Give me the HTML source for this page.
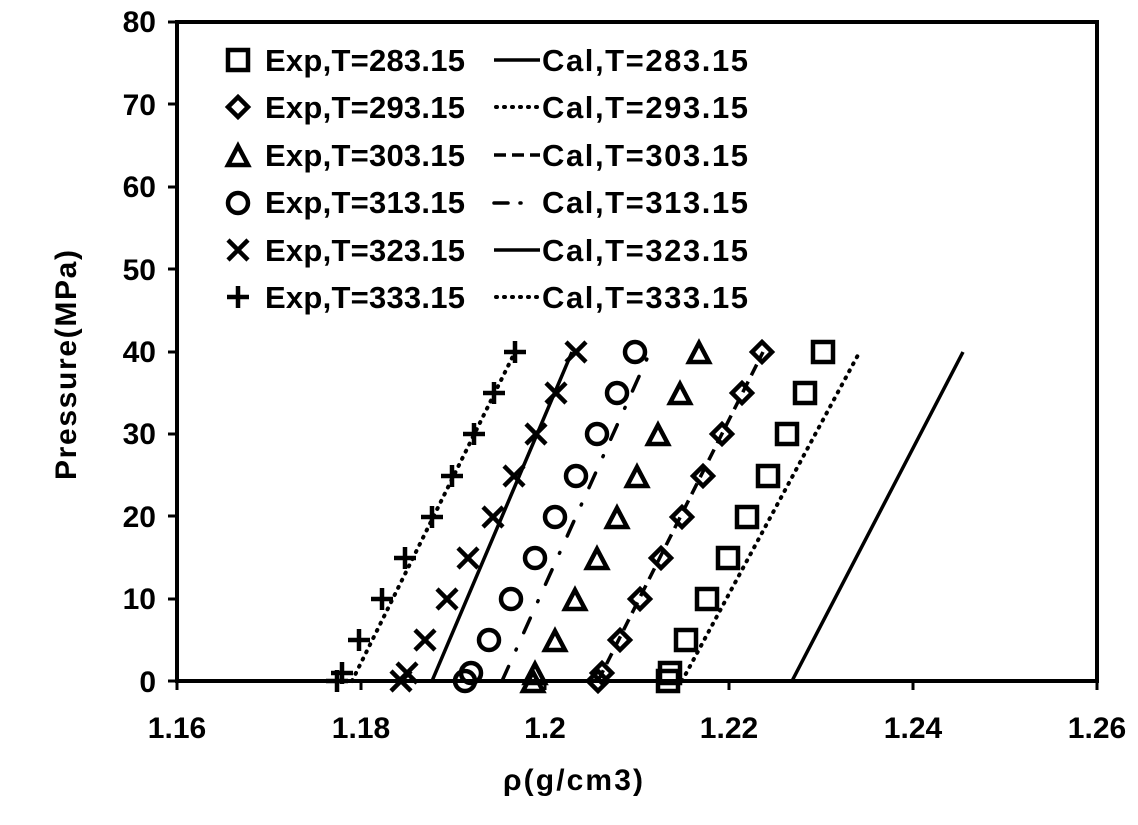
<!DOCTYPE html>
<html><head><meta charset="utf-8"><style>
html,body{margin:0;padding:0;background:#fff;width:1138px;height:825px;overflow:hidden}
text{font-family:"Liberation Sans",sans-serif;font-weight:bold;fill:#000}
.t{font-size:30px}
.l{font-size:31px}
</style></head><body>
<svg width="1138" height="825" viewBox="0 0 1138 825" xmlns="http://www.w3.org/2000/svg">
<defs>
<g id="sq"><rect x="-10" y="-10" width="20" height="20" fill="none" stroke="#000" stroke-width="4.5"/></g>
<g id="di"><path d="M0,-10 L10,0 L0,10 L-10,0Z" fill="none" stroke="#000" stroke-width="4.5"/></g>
<g id="tr"><path d="M0,-11 L10,8 L-10,8Z" fill="none" stroke="#000" stroke-width="4.5" stroke-linejoin="miter"/></g>
<g id="ci"><circle r="10" fill="none" stroke="#000" stroke-width="4.5"/></g>
<g id="xx"><path d="M-10,-10L10,10M10,-10L-10,10" stroke="#000" stroke-width="4.5"/></g>
<g id="pl"><path d="M-11,0H11M0,-11V11" stroke="#000" stroke-width="4.5"/></g>
</defs>
<rect x="177" y="22" width="920" height="659" fill="none" stroke="#000" stroke-width="4"/>
<g stroke="#000" stroke-width="3">
<line x1="168" y1="22" x2="177" y2="22"/><line x1="168" y1="104" x2="177" y2="104"/><line x1="168" y1="187" x2="177" y2="187"/><line x1="168" y1="269" x2="177" y2="269"/><line x1="168" y1="352" x2="177" y2="352"/><line x1="168" y1="434" x2="177" y2="434"/><line x1="168" y1="516" x2="177" y2="516"/><line x1="168" y1="599" x2="177" y2="599"/><line x1="168" y1="681" x2="177" y2="681"/>
<line x1="177" y1="681" x2="177" y2="690"/><line x1="361" y1="681" x2="361" y2="690"/><line x1="545" y1="681" x2="545" y2="690"/><line x1="729" y1="681" x2="729" y2="690"/><line x1="913" y1="681" x2="913" y2="690"/><line x1="1097" y1="681" x2="1097" y2="690"/>
</g>
<g class="t" text-anchor="end">
<text x="156" y="32">80</text><text x="156" y="115">70</text><text x="156" y="197">60</text><text x="156" y="280">50</text><text x="156" y="362">40</text><text x="156" y="444">30</text><text x="156" y="527">20</text><text x="156" y="609">10</text><text x="156" y="692">0</text>
</g>
<g class="t" text-anchor="middle">
<text x="177" y="738">1.16</text><text x="361" y="738">1.18</text><text x="545" y="738">1.2</text><text x="729" y="738">1.22</text><text x="913" y="738">1.24</text><text x="1097" y="738">1.26</text>
</g>
<text x="503" y="790" class="t" textLength="140">ρ(g/cm3)</text>
<text transform="translate(76,480) rotate(-90)" class="t" textLength="230">Pressure(MPa)</text>
<g fill="none" stroke="#000" stroke-width="3.5">
<line x1="792" y1="681" x2="963" y2="352"/>
<line x1="682" y1="681" x2="858" y2="355" stroke-dasharray="1 7" stroke-linecap="round" stroke-width="4"/>
<line x1="598" y1="681" x2="763" y2="352" stroke-dasharray="12 7"/>
<line x1="502" y1="681" x2="650" y2="352" stroke-dasharray="16 18 1 18" stroke-linecap="round"/>
<line x1="432" y1="681" x2="572" y2="352"/>
<line x1="352" y1="681" x2="515" y2="352" stroke-dasharray="1 7" stroke-linecap="round" stroke-width="4"/>
</g>
<line x1="177" y1="681" x2="1097" y2="681" stroke="#000" stroke-width="4"/>
<g>
<use href="#sq" x="823" y="352"/><use href="#sq" x="805" y="393"/><use href="#sq" x="787" y="434"/><use href="#sq" x="768" y="476"/><use href="#sq" x="747" y="517"/><use href="#sq" x="728" y="558"/><use href="#sq" x="707" y="599"/><use href="#sq" x="686" y="640"/><use href="#sq" x="670" y="673"/><use href="#sq" x="668" y="681"/>
<use href="#di" x="762" y="352"/><use href="#di" x="742" y="393"/><use href="#di" x="722" y="434"/><use href="#di" x="703" y="476"/><use href="#di" x="682" y="517"/><use href="#di" x="661" y="558"/><use href="#di" x="640" y="599"/><use href="#di" x="620" y="640"/><use href="#di" x="602" y="673"/><use href="#di" x="598" y="681"/>
<use href="#tr" x="699" y="354"/><use href="#tr" x="680" y="395"/><use href="#tr" x="658" y="436"/><use href="#tr" x="637" y="478"/><use href="#tr" x="617" y="519"/><use href="#tr" x="597" y="560"/><use href="#tr" x="575" y="601"/><use href="#tr" x="555" y="642"/><use href="#tr" x="535" y="675"/><use href="#tr" x="533" y="683"/>
<use href="#ci" x="635" y="352"/><use href="#ci" x="617" y="393"/><use href="#ci" x="597" y="434"/><use href="#ci" x="576" y="476"/><use href="#ci" x="555" y="517"/><use href="#ci" x="535" y="558"/><use href="#ci" x="511" y="599"/><use href="#ci" x="489" y="640"/><use href="#ci" x="471" y="673"/><use href="#ci" x="465" y="681"/>
<use href="#xx" x="576" y="352"/><use href="#xx" x="556" y="393"/><use href="#xx" x="536" y="434"/><use href="#xx" x="514" y="476"/><use href="#xx" x="493" y="517"/><use href="#xx" x="468" y="558"/><use href="#xx" x="447" y="599"/><use href="#xx" x="425" y="640"/><use href="#xx" x="407" y="673"/><use href="#xx" x="401" y="681"/>
<use href="#pl" x="515" y="352"/><use href="#pl" x="494" y="393"/><use href="#pl" x="474" y="434"/><use href="#pl" x="452" y="476"/><use href="#pl" x="432" y="517"/><use href="#pl" x="405" y="558"/><use href="#pl" x="382" y="599"/><use href="#pl" x="359" y="640"/><use href="#pl" x="342" y="673"/><use href="#pl" x="337" y="681"/>
</g>
<g>
<use href="#sq" x="238" y="60"/><use href="#di" x="238" y="107"/><use href="#tr" x="238" y="157"/><use href="#ci" x="238" y="203"/><use href="#xx" x="238" y="250"/><use href="#pl" x="238" y="297"/>
</g>
<g class="l">
<text x="265" y="71" textLength="200">Exp,T=283.15</text><text x="265" y="118" textLength="200">Exp,T=293.15</text><text x="265" y="166" textLength="200">Exp,T=303.15</text><text x="265" y="213" textLength="200">Exp,T=313.15</text><text x="265" y="261" textLength="200">Exp,T=323.15</text><text x="265" y="308" textLength="200">Exp,T=333.15</text>
<text x="542" y="71" textLength="206">Cal,T=283.15</text><text x="542" y="118" textLength="206">Cal,T=293.15</text><text x="542" y="166" textLength="206">Cal,T=303.15</text><text x="542" y="213" textLength="206">Cal,T=313.15</text><text x="542" y="261" textLength="206">Cal,T=323.15</text><text x="542" y="308" textLength="206">Cal,T=333.15</text>
</g>
<g stroke="#000" stroke-width="3.5" fill="none">
<line x1="494" y1="60" x2="540" y2="60"/>
<line x1="496" y1="107" x2="540" y2="107" stroke-dasharray="1 7" stroke-linecap="round" stroke-width="4"/>
<line x1="494" y1="155" x2="540" y2="155" stroke-dasharray="12 6"/>
<line x1="494" y1="203" x2="540" y2="203" stroke-dasharray="14 12 1 20" stroke-linecap="round"/>
<line x1="494" y1="250" x2="540" y2="250"/>
<line x1="496" y1="297" x2="540" y2="297" stroke-dasharray="1 7" stroke-linecap="round" stroke-width="4"/>
</g>
</svg>
</body></html>
